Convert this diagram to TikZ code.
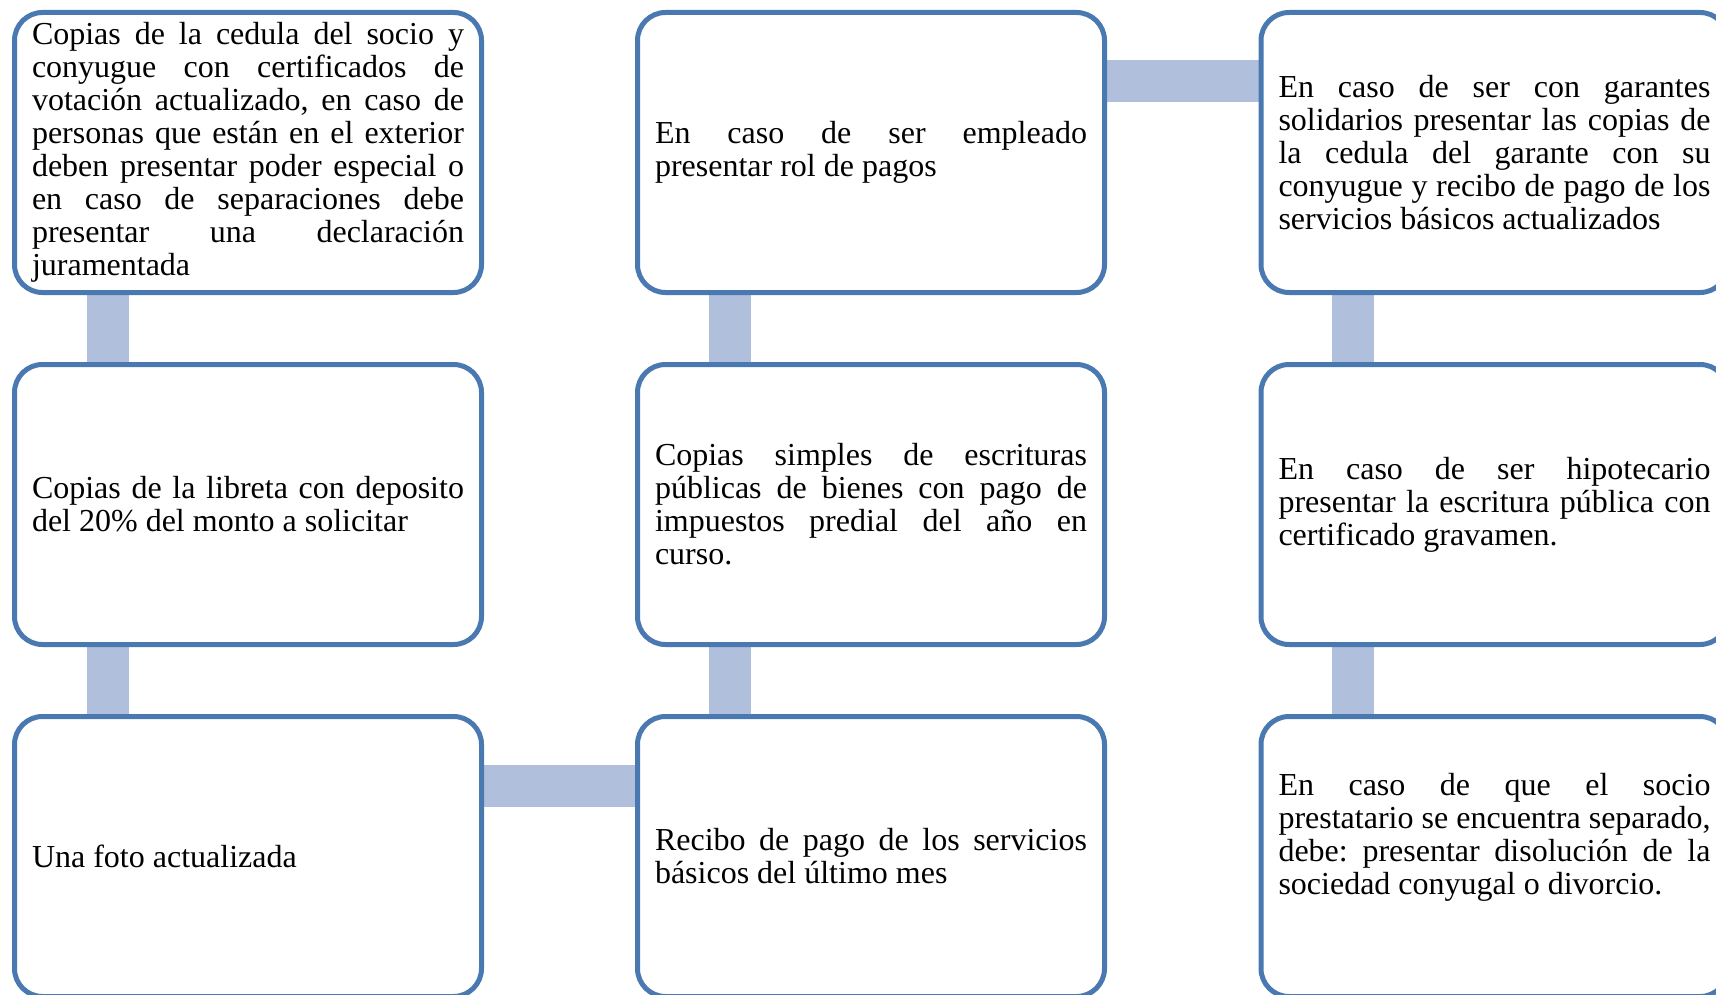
\documentclass[tikz,border=0pt]{standalone}
\usepackage{fontspec}
\setmainfont{Liberation Serif}
\usetikzlibrary{backgrounds}
\definecolor{bordercol}{RGB}{74,120,176}
\definecolor{conncol}{RGB}{176,192,220}
\newcommand\jl[1]{\makebox[432pt][s]{#1}\\}
\tikzset{
  card/.style={draw=bordercol, line width=5pt, rounded corners=28pt, fill=white,
    minimum width=467pt, minimum height=280pt, text width=432pt,
    inner sep=0pt, outer sep=0pt, align=justify,
    font={\fontsize{32}{33}\selectfont\frenchspacing}},
  conn/.style={draw=conncol, line width=42pt, line cap=butt}
}
\begin{document}
\begin{tikzpicture}[x=1pt,y=-1pt]
\useasboundingbox (0,0) rectangle (1716,995);
\clip (0,0) rectangle (1716,995);
% column 1
\node[card] (b1) at (248,152.5) {\jl{Copias de la cedula del socio y}\jl{conyugue con certificados de}\jl{votación actualizado, en caso de}\jl{personas que están en el exterior}\jl{deben presentar poder especial o}\jl{en caso de separaciones debe}\jl{presentar una declaración}juramentada};
\node[card] (b2) at (248,504.5) {\jl{Copias de la libreta con deposito}del 20\% del monto a solicitar};
\node[card] (b3) at (248,856.5) {Una foto actualizada};
% column 2
\node[card] (c1) at (871,152.5) {\jl{En caso de ser empleado}presentar rol de pagos};
\node[card] (c2) at (871,504.5) {\jl{Copias simples de escrituras}\jl{públicas de bienes con pago de}\jl{impuestos predial del año en}curso.};
\node[card] (c3) at (871,856.5) {\jl{Recibo de pago de los servicios}básicos del último mes};
% column 3
\node[card] (d1) at (1494.5,152.5) {\jl{En caso de ser con garantes}\jl{solidarios presentar las copias de}\jl{la cedula del garante con su}\jl{conyugue y recibo de pago de los}servicios básicos actualizados};
\node[card] (d2) at (1494.5,504.5) {\jl{En caso de ser hipotecario}\jl{presentar la escritura pública con}certificado gravamen.};
\node[card] (d3) at (1494.5,856.5) {\jl{En caso de que el socio}\jl{prestatario se encuentra separado,}\jl{debe: presentar disolución de la}sociedad conyugal o divorcio.\rule[-46pt]{0pt}{46pt}};
% connectors
\begin{scope}[on background layer]
\draw[conn] ([xshift=-140pt]b1.south) -- ([xshift=-140pt]b2.north);
\draw[conn] ([xshift=-140pt]b2.south) -- ([xshift=-140pt]b3.north);
\draw[conn] ([yshift=71pt]b3.east) -- ([yshift=71pt]c3.west);
\draw[conn] ([xshift=-141pt]c3.north) -- ([xshift=-141pt]c2.south);
\draw[conn] ([xshift=-141pt]c2.north) -- ([xshift=-141pt]c1.south);
\draw[conn] ([yshift=71pt]c1.east) -- ([yshift=71pt]d1.west);
\draw[conn] ([xshift=-142pt]d1.south) -- ([xshift=-142pt]d2.north);
\draw[conn] ([xshift=-142pt]d2.south) -- ([xshift=-142pt]d3.north);
\end{scope}
\end{tikzpicture}
\end{document}
